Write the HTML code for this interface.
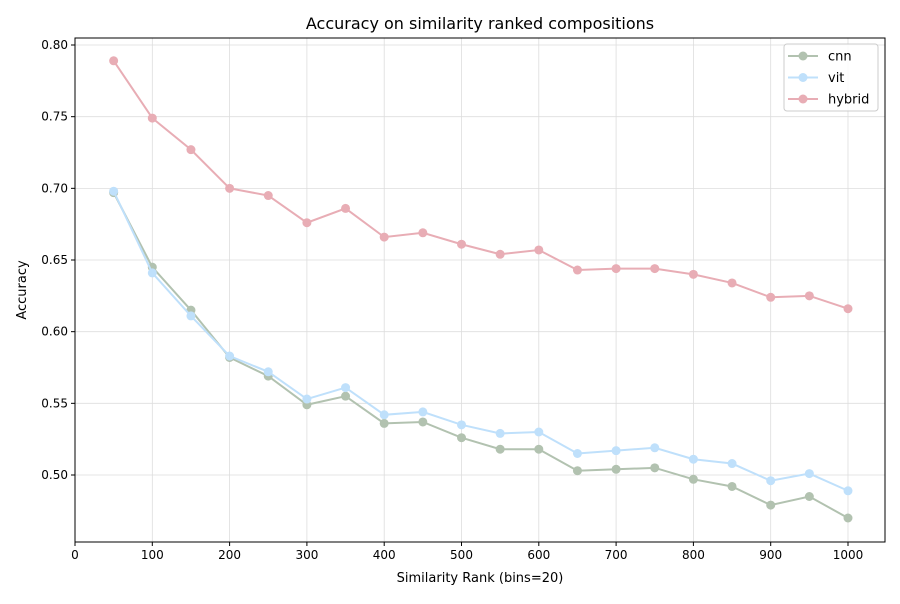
<!DOCTYPE html>
<html><head><meta charset="utf-8"><style>
body{margin:0;background:#fff;font-family:"DejaVu Sans","Liberation Sans",sans-serif}
svg text{font-family:"DejaVu Sans","Liberation Sans",sans-serif}
</style></head><body>
<svg id="chart" width="900" height="600"></svg>
<script>
const ranks=[50,100,150,200,250,300,350,400,450,500,550,600,650,700,750,800,850,900,950,1000];
const cnnVals=[0.697,0.645,0.615,0.582,0.569,0.549,0.555,0.536,0.537,0.526,0.518,0.518,0.503,0.504,0.505,0.497,0.492,0.479,0.485,0.470];
const vitVals=[0.698,0.641,0.611,0.583,0.572,0.553,0.561,0.542,0.544,0.535,0.529,0.530,0.515,0.517,0.519,0.511,0.508,0.496,0.501,0.489];
const hybridVals=[0.789,0.749,0.727,0.700,0.695,0.676,0.686,0.666,0.669,0.661,0.654,0.657,0.643,0.644,0.644,0.640,0.634,0.624,0.625,0.616];
const xTicks=[0,100,200,300,400,500,600,700,800,900,1000];
const yTicks=[0.50,0.55,0.60,0.65,0.70,0.75,0.80];
const L=75,R=885,T=38,B=542;
const xs=v=>75+v*0.773;
const ys=v=>475-(v-0.5)*1433.3;
const svg=document.getElementById('chart');
const NS='http://www.w3.org/2000/svg';
function mk(t,a,p){const e=document.createElementNS(NS,t);for(const k in a)e.setAttribute(k,a[k]);(p||svg).appendChild(e);return e;}
const grid=mk('g',{});


xTicks.forEach(t=>{const x=xs(t);
mk('line',{x1:x,x2:x,y1:T,y2:B,stroke:'#ddd','stroke-width':0.8},grid);
mk('line',{x1:x,x2:x,y1:B,y2:B+4,stroke:'#000'});
const tx=mk('text',{x:x,y:B+17,'text-anchor':'middle','font-size':12});tx.textContent=t;

});
yTicks.forEach(t=>{const y=ys(t);
mk('line',{x1:L,x2:R,y1:y,y2:y,stroke:'#ddd','stroke-width':0.8},grid);
mk('line',{x1:L-4,x2:L,y1:y,y2:y,stroke:'#000'});
const tx=mk('text',{x:L-7,y:y+4,'text-anchor':'end','font-size':12});tx.textContent=t.toFixed(2);

});
const series=[['cnn',cnnVals,'#b2c2b0'],['vit',vitVals,'#bfe0fb'],['hybrid',hybridVals,'#e8adb5']];
series.forEach(([n,vals,c])=>{const g=mk('g',{});


mk('polyline',{points:ranks.map((r,i)=>xs(r)+','+ys(vals[i])).join(' '),fill:'none',stroke:c,'stroke-width':2},g);
ranks.forEach((r,i)=>{const p=mk('circle',{cx:xs(r),cy:ys(vals[i]),r:4.5,fill:c},g);

});});
const frame=mk('rect',{x:L,y:T,width:R-L,height:B-T,fill:'none',stroke:'#000','stroke-width':1});


const ti=mk('text',{x:480,y:29,'text-anchor':'middle','font-size':16});ti.textContent='Accuracy on similarity ranked compositions';


const xl=mk('text',{x:480,y:582,'text-anchor':'middle','font-size':13});xl.textContent='Similarity Rank (bins=20)';


const yl=mk('text',{x:0,y:0,'text-anchor':'middle','font-size':13,transform:'translate(26,290) rotate(-90)'});yl.textContent='Accuracy';


const lg=mk('g',{});


mk('rect',{x:784,y:44,width:94,height:67,rx:3,fill:'#fff','fill-opacity':0.85,stroke:'#ccc'},lg);
series.forEach(([n,v,c],i)=>{const y=56+i*21.5;
const e=mk('g',{},lg);


mk('line',{x1:788,x2:818,y1:y,y2:y,stroke:c,'stroke-width':2},e);
mk('circle',{cx:803,cy:y,r:4.5,fill:c},e);
const t=mk('text',{x:828,y:y+4.5,'font-size':13},e);t.textContent=n;});
</script>
</body></html>
